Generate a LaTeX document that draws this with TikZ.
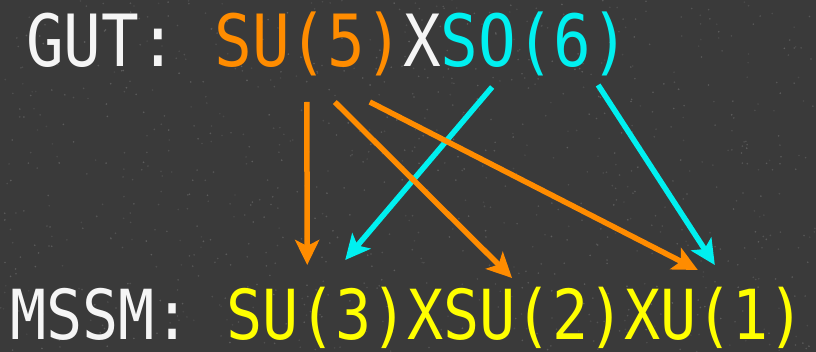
\documentclass[tikz,border=0pt]{standalone}
\usepackage{fontspec}
\usetikzlibrary{arrows.meta,calc}
\newfontfamily\monof[FakeStretch=0.87]{DejaVu Sans Mono}
\definecolor{bgc}{RGB}{58,58,58}
\definecolor{speck}{RGB}{110,110,110}
\definecolor{orng}{RGB}{255,140,0}
\definecolor{cyn}{RGB}{0,240,240}
\definecolor{yel}{RGB}{255,255,0}
\definecolor{wht}{RGB}{245,245,245}
\begin{document}
\begin{tikzpicture}[x=1pt,y=-1pt,
  toptxt/.style={inner sep=0pt, outer sep=0pt, anchor=base west, font=\monof\fontsize{72}{72}\selectfont},
  bottxt/.style={inner sep=0pt, outer sep=0pt, anchor=base west, font=\monof\fontsize{69}{69}\selectfont},
  arr/.style={line width=5.5pt, -{Stealth[length=25pt,width=24pt,inset=6pt]}},
]
\fill[bgc] (0,0) rectangle (816,352);
\useasboundingbox (0,0) rectangle (816,352);
% background speckle texture
\pgfmathsetseed{11}
\foreach \i in {1,...,900}{
  \pgfmathsetmacro{\px}{816*rnd}
  \pgfmathsetmacro{\py}{352*rnd}
  \pgfmathsetmacro{\op}{0.25+0.45*rnd}
  \fill[speck, opacity=\op] (\px,\py) circle (0.9pt);
}
% top line
\node[toptxt, wht] (gut) at (26,67) {GUT:\hphantom{X}};
\node[toptxt, orng] (su5) at (gut.base east) {SU(5)};
\node[toptxt, wht] (x1) at (su5.base east) {X};
\node[toptxt, cyn] (so6) at (x1.base east) {SO(6)};
% bottom line
\node[bottxt, wht] (mssm) at (10,339) {MSSM:\hphantom{X}};
\node[bottxt, yel] (su3) at (mssm.base east) {SU(3)};
\node[bottxt, yel] (x2) at (su3.base east) {X};
\node[bottxt, yel] (su2) at (x2.base east) {SU(2)};
\node[bottxt, yel] (x3) at (su2.base east) {X};
\node[bottxt, yel] (u1) at (x3.base east) {U(1)};
% arrows
\draw[arr, cyn] ($(so6.base)+(-43,20)$) -- ($(su3.base)+(28,-79)$);
\draw[arr, cyn] ($(so6.base)+(63,18)$) -- ($(u1.base)+(-18,-74)$);
\draw[arr, orng] ($(su5.base)+(-2,35)$) -- ($(su3.base)+(-10,-74)$);
\draw[arr, orng] ($(su5.base)+(26,35)$) -- ($(su2.base)+(-22,-61)$);
\draw[arr, orng] ($(su5.base)+(61,35)$) -- ($(u1.base)+(-35,-69)$);
\end{tikzpicture}
\end{document}
